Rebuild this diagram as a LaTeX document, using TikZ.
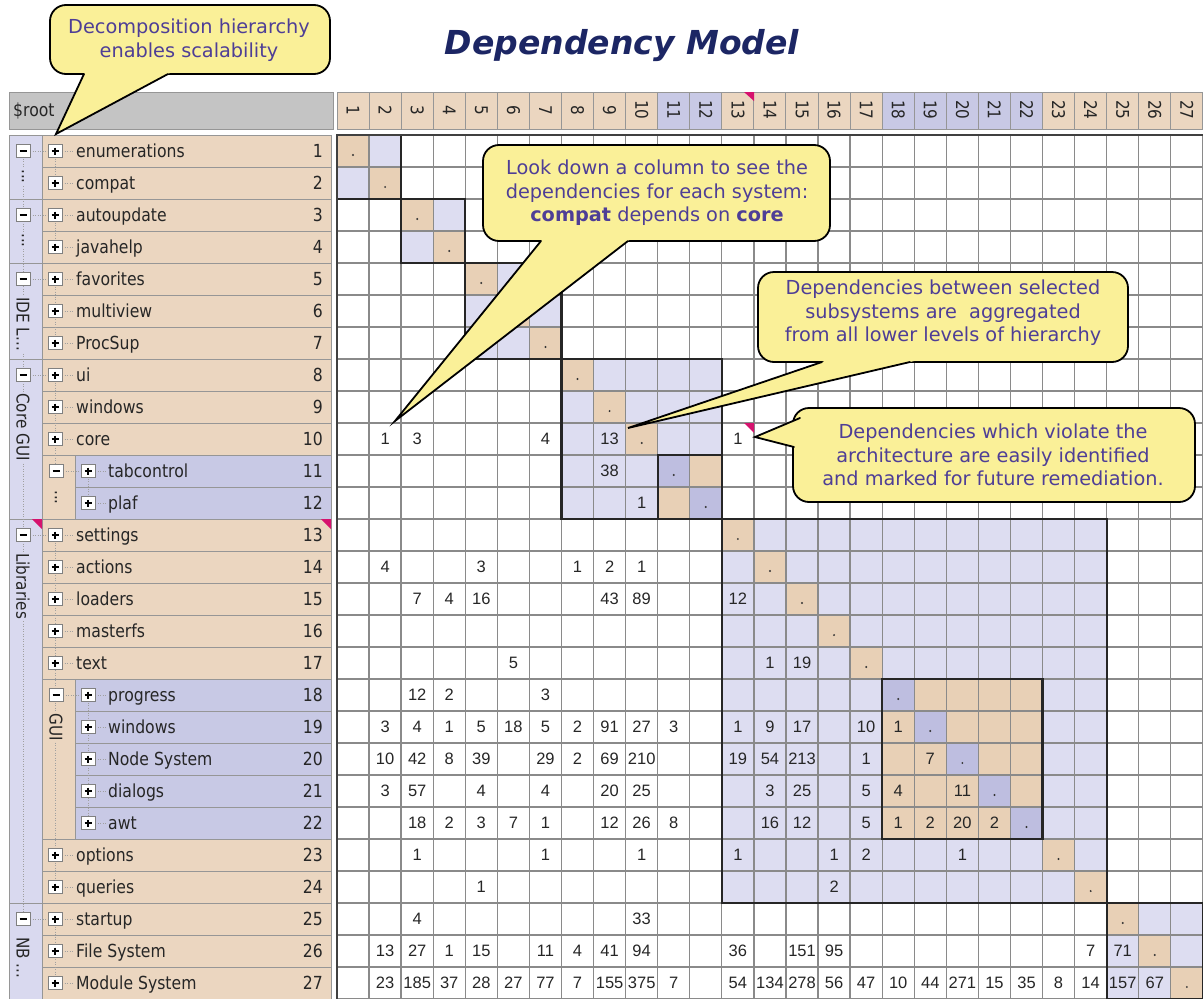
\documentclass[tikz,border=0pt]{standalone}
\usepackage{fontspec}
\setmainfont{DejaVu Sans}
\newfontfamily\treefont[FakeStretch=0.87]{DejaVu Sans}
\newfontfamily\numfont{Liberation Sans}
\usetikzlibrary{calc}
\definecolor{beige}{RGB}{235,214,192}
\definecolor{dbeige}{RGB}{232,208,182}
\definecolor{lav}{RGB}{221,221,241}
\definecolor{dlav}{RGB}{190,190,224}
\definecolor{treelav}{RGB}{200,201,229}
\definecolor{colav}{RGB}{217,217,239}
\definecolor{hdrlav}{RGB}{200,201,229}
\definecolor{rootgray}{RGB}{196,196,196}
\definecolor{gridgray}{RGB}{138,138,138}
\definecolor{cellgray}{RGB}{150,150,150}
\definecolor{calloutfill}{RGB}{250,240,152}
\definecolor{callouttext}{RGB}{78,62,150}
\definecolor{titleblue}{RGB}{28,38,100}
\definecolor{mag}{RGB}{214,18,110}
\definecolor{dotgray}{RGB}{160,160,160}
\tikzset{
  gridln/.style={draw=gridgray, line width=1.3pt},
  blockln/.style={draw=black!85, line width=2.2pt},
  rowcell/.style={draw=cellgray, line width=1pt},
  treedot/.style={draw=dotgray, line width=0.7pt, dash pattern=on 1pt off 1.5pt},
  tbox/.style={draw=gray, fill=white, line width=0.9pt},
  tsym/.style={draw=black, line width=1.4pt},
  treelbl/.style={font=\treefont\fontsize{18}{21}\selectfont, inner sep=0pt, text=black!85},
  vlbl/.style={font=\treefont\fontsize{17.5}{20}\selectfont, rotate=-90, anchor=west, inner sep=1pt, text=black!85},
  mnum/.style={font=\numfont\fontsize{16.5}{19}\selectfont, inner sep=0pt, text=black!85},
  hnum/.style={font=\treefont\fontsize{17.5}{19}\selectfont, rotate=-90, inner sep=0pt, text=black!85},
  callout/.style={fill=calloutfill, draw=black, line width=1.8pt, rounded corners=16pt},
  cline/.style={draw=black, line width=1.8pt, line cap=round},
  ctext/.style={text=callouttext, font=\fontsize{19.3}{23.5}\selectfont, align=center, inner sep=0pt},
  mtri/.style={fill=mag},
}
\def\rowlist{1/enumerations/0,2/compat/0,3/autoupdate/0,4/javahelp/0,5/favorites/0,6/multiview/0,7/ProcSup/0,8/ui/0,9/windows/0,10/core/0,11/tabcontrol/1,12/plaf/1,13/settings/0,14/actions/0,15/loaders/0,16/masterfs/0,17/text/0,18/progress/1,19/windows/1,20/Node System/1,21/dialogs/1,22/awt/1,23/options/0,24/queries/0,25/startup/0,26/File System/0,27/Module System/0}
\begin{document}
\begin{tikzpicture}[x=1pt,y=-1pt]
\useasboundingbox (0,0) rectangle (1203,999);
\fill[white] (0,0) rectangle (1203,999);

% title
\node[font=\fontsize{33}{38}\selectfont\bfseries\itshape, text=titleblue] (title) at (622,46) {Dependency Model};

% root header
\draw[rowcell, fill=rootgray] (9,92) rectangle (333,129);
\node[treelbl, anchor=west] (root) at (13,111) {\$root};

% column headers
\foreach \c in {1,...,10,13,14,...,17,23,24,...,27}{
  \draw[rowcell, fill=beige] ({337+(\c-1)*32.07},92) rectangle ++(32.07,37);
}
\foreach \c in {11,12,18,19,...,22}{
  \draw[rowcell, fill=hdrlav] ({337+(\c-1)*32.07},92) rectangle ++(32.07,37);
}
\foreach \c in {1,...,27}{
  \node[hnum] (h-\c) at ({337+(\c-0.5)*32.07},110) {\c};
}
\fill[mtri] (744,92) -- (754,92) -- (754,101) -- cycle;

% matrix fills
\foreach \a/\b in {1/2,3/4,5/7,8/12,13/24,25/27}{
  \fill[lav] ({337+(\a-1)*32.07},{135+(\a-1)*32}) rectangle ({337+\b*32.07},{135+\b*32});
}
\foreach \a/\b in {11/12,18/22}{
  \fill[dbeige] ({337+(\a-1)*32.07},{135+(\a-1)*32}) rectangle ({337+\b*32.07},{135+\b*32});
}
\foreach \r in {1,...,10,13,14,...,17,23,24,...,27}{
  \fill[dbeige] ({337+(\r-1)*32.07},{135+(\r-1)*32}) rectangle ++(32.07,32);
}
\foreach \r in {11,12,18,19,...,22}{
  \fill[dlav] ({337+(\r-1)*32.07},{135+(\r-1)*32}) rectangle ++(32.07,32);
}
% grid
\foreach \c in {0,...,27}{
  \draw[gridln] ({337+\c*32.07},135) -- ({337+\c*32.07},1000);
}
\foreach \r in {0,...,27}{
  \draw[gridln] (337,{135+\r*32}) -- (1204,{135+\r*32});
}
% block outlines
\foreach \a/\b in {1/2,3/4,5/7,8/12,13/24,25/27,11/12,18/22}{
  \draw[blockln] ({337+(\a-1)*32.07},{135+(\a-1)*32}) rectangle ({337+\b*32.07},{135+\b*32});
}
\draw[draw=black!75, line width=2.6pt] (337,1000) -- (337,135) -- (1204,135);
% diagonal dots
\foreach \r in {1,...,27}{
  \fill[black!80] ({337+(\r-0.5)*32.07},{135+(\r-0.5)*32+4}) circle (1.1pt);
}
% values
\foreach \r/\c/\v in {10/2/1,10/3/3,10/7/4,10/9/13,10/13/1,11/9/38,12/10/1,
 14/2/4,14/5/3,14/8/1,14/9/2,14/10/1,
 15/3/7,15/4/4,15/5/16,15/9/43,15/10/89,15/13/12,
 17/6/5,17/14/1,17/15/19,
 18/3/12,18/4/2,18/7/3,
 19/2/3,19/3/4,19/4/1,19/5/5,19/6/18,19/7/5,19/8/2,19/9/91,19/10/27,19/11/3,19/13/1,19/14/9,19/15/17,19/17/10,19/18/1,
 20/2/10,20/3/42,20/4/8,20/5/39,20/7/29,20/8/2,20/9/69,20/10/210,20/13/19,20/14/54,20/15/213,20/17/1,20/19/7,
 21/2/3,21/3/57,21/5/4,21/7/4,21/9/20,21/10/25,21/14/3,21/15/25,21/17/5,21/18/4,21/20/11,
 22/3/18,22/4/2,22/5/3,22/6/7,22/7/1,22/9/12,22/10/26,22/11/8,22/14/16,22/15/12,22/17/5,22/18/1,22/19/2,22/20/20,22/21/2,
 23/3/1,23/7/1,23/10/1,23/13/1,23/16/1,23/17/2,23/20/1,
 24/5/1,24/16/2,
 25/3/4,25/10/33,
 26/2/13,26/3/27,26/4/1,26/5/15,26/7/11,26/8/4,26/9/41,26/10/94,26/13/36,26/15/151,26/16/95,26/24/7,26/25/71,
 27/2/23,27/3/185,27/4/37,27/5/28,27/6/27,27/7/77,27/8/7,27/9/155,27/10/375,27/11/7,27/13/54,27/14/134,27/15/278,27/16/56,27/17/47,27/18/10,27/19/44,27/20/271,27/21/15,27/22/35,27/23/8,27/24/14,27/25/157,27/26/67}{
  \node[mnum] (m-\r-\c) at ({337+(\c-0.5)*32.07},{135+(\r-0.5)*32}) {\v};
}
\fill[mtri] (744,423) -- (754,423) -- (754,433) -- cycle;

% ---------- tree ----------
\foreach \a/\b in {1/2,3/4,5/7,8/12,13/24,25/27}{
  \draw[rowcell, fill=colav] (9,{135+(\a-1)*32}) rectangle (42,{135+\b*32});
}
\foreach \r/\lbl/\sub in \rowlist{
  \ifnum\sub=0
    \draw[rowcell, fill=beige] (42,{135+(\r-1)*32}) rectangle (331,{135+\r*32});
  \else
    \draw[rowcell, fill=treelav] (75,{135+(\r-1)*32}) rectangle (331,{135+\r*32});
  \fi
}
\foreach \a/\b in {11/12,18/22}{
  \draw[rowcell, fill=beige] (42,{135+(\a-1)*32}) rectangle (75,{135+\b*32});
}
% dotted tree lines
\draw[treedot] (23,151) -- (23,919);
\foreach \a/\b in {1/2,3/4,5/7,8/11,13/24,25/27}{
  \draw[treedot] (55,{151+(\a-1)*32}) -- (55,{151+(\b-1)*32});
  \draw[treedot] (30,{151+(\a-1)*32}) -- (48,{151+(\a-1)*32});
}
\foreach \a/\b in {11/12,18/22}{
  \draw[treedot] (88,{151+(\a-1)*32}) -- (88,{151+(\b-1)*32});
  \draw[treedot] (63,{151+(\a-1)*32}) -- (81,{151+(\a-1)*32});
}
% group labels
\node[vlbl, fill=colav] (g1) at (23,168) {...};
\node[vlbl, fill=colav] (g2) at (23,232) {...};
\node[vlbl, fill=colav] (g3) at (23,296) {IDE L...};
\node[vlbl, fill=colav] (g4) at (23,392) {Core GUI};
\node[vlbl, fill=colav] (g5) at (23,552) {Libraries};
\node[vlbl, fill=colav] (g6) at (23,936) {NB ...};
\node[vlbl, fill=beige] (s1) at (56,489) {...};
\node[vlbl, fill=beige] (s2) at (56,712) {GUI};
% minus boxes
\foreach \yy/\xx in {151/23,215/23,279/23,375/23,535/23,919/23,471/56,695/56}{
  \draw[tbox] ({\xx-7},{\yy-6.5}) rectangle ({\xx+7},{\yy+6.5});
  \draw[tsym] ({\xx-3.5},\yy) -- ({\xx+3.5},\yy);
}
% rows: plus boxes, labels, numbers
\foreach \r/\lbl/\sub in \rowlist{
  \pgfmathsetmacro\yc{151+(\r-1)*32}
  \ifnum\sub=0 \def\px{55}\def\lx{76}\else \def\px{88}\def\lx{108}\fi
  \draw[treedot] ({\px+7},\yc) -- ({\lx-2},\yc);
  \draw[tbox] ({\px-7},{\yc-6.5}) rectangle ({\px+7},{\yc+6.5});
  \draw[tsym] ({\px-3.5},\yc) -- ({\px+3.5},\yc) ({\px},{\yc-3.5}) -- ({\px},{\yc+3.5});
  \node[treelbl, anchor=base west] (t-\r) at (\lx,{\yc+6}) {\lbl};
  \node[treelbl, anchor=base east] (n-\r) at (323,{\yc+6}) {\r};
}
\fill[mtri] (321,519) -- (331,519) -- (331,529) -- cycle;
\fill[mtri] (32,519) -- (42,519) -- (42,529) -- cycle;

% ---------- callouts ----------
% C1
\draw[callout] (50,5) rectangle (330,74);
\coordinate (t1) at (56,134); \coordinate (b1a) at (84,74); \coordinate (b1b) at (168,74);
\fill[calloutfill] (t1) -- ($(t1)!1.08!(b1a)$) -- ($(t1)!1.08!(b1b)$) -- cycle;
\draw[cline] (b1a) -- (t1) -- (b1b);
\node[ctext] (c1) at (189,40) {Decomposition hierarchy\\enables scalability};

% C2
\draw[callout] (483,145) rectangle (830,241);
\coordinate (t2) at (395,421); \coordinate (b2a) at (541,241); \coordinate (b2b) at (628,241);
\fill[calloutfill] (t2) -- ($(t2)!1.04!(b2a)$) -- ($(t2)!1.04!(b2b)$) -- cycle;
\draw[cline] (b2a) -- (t2) -- (b2b);
\node[ctext] (c2) at (657,193) {Look down a column to see the\\dependencies for each system:\\\textbf{compat} depends on \textbf{core}};

% C3
\draw[callout] (758,272) rectangle (1128,362);
\coordinate (t3) at (628,428); \coordinate (b3a) at (822,362); \coordinate (b3b) at (910,362);
\fill[calloutfill] (t3) -- ($(t3)!1.04!(b3a)$) -- ($(t3)!1.04!(b3b)$) -- cycle;
\draw[cline] (b3a) -- (t3) -- (b3b);
\node[ctext] (c3) at (943,313) {Dependencies between selected\\subsystems are\ \ aggregated\\from all lower levels of hierarchy};

% C4
\draw[callout] (793,408) rectangle (1195,502);
\coordinate (t4) at (755,437); \coordinate (b4a) at (800,418); \coordinate (b4b) at (794,447);
\fill[calloutfill] (t4) -- ($(t4)!1.2!(b4a)$) -- ($(t4)!1.2!(b4b)$) -- cycle;
\draw[cline] (b4a) -- (t4) -- (b4b);
\node[ctext] (c4) at (993,455) {Dependencies which violate the\\architecture are easily identified\\and marked for future remediation.};
\end{tikzpicture}
\end{document}
